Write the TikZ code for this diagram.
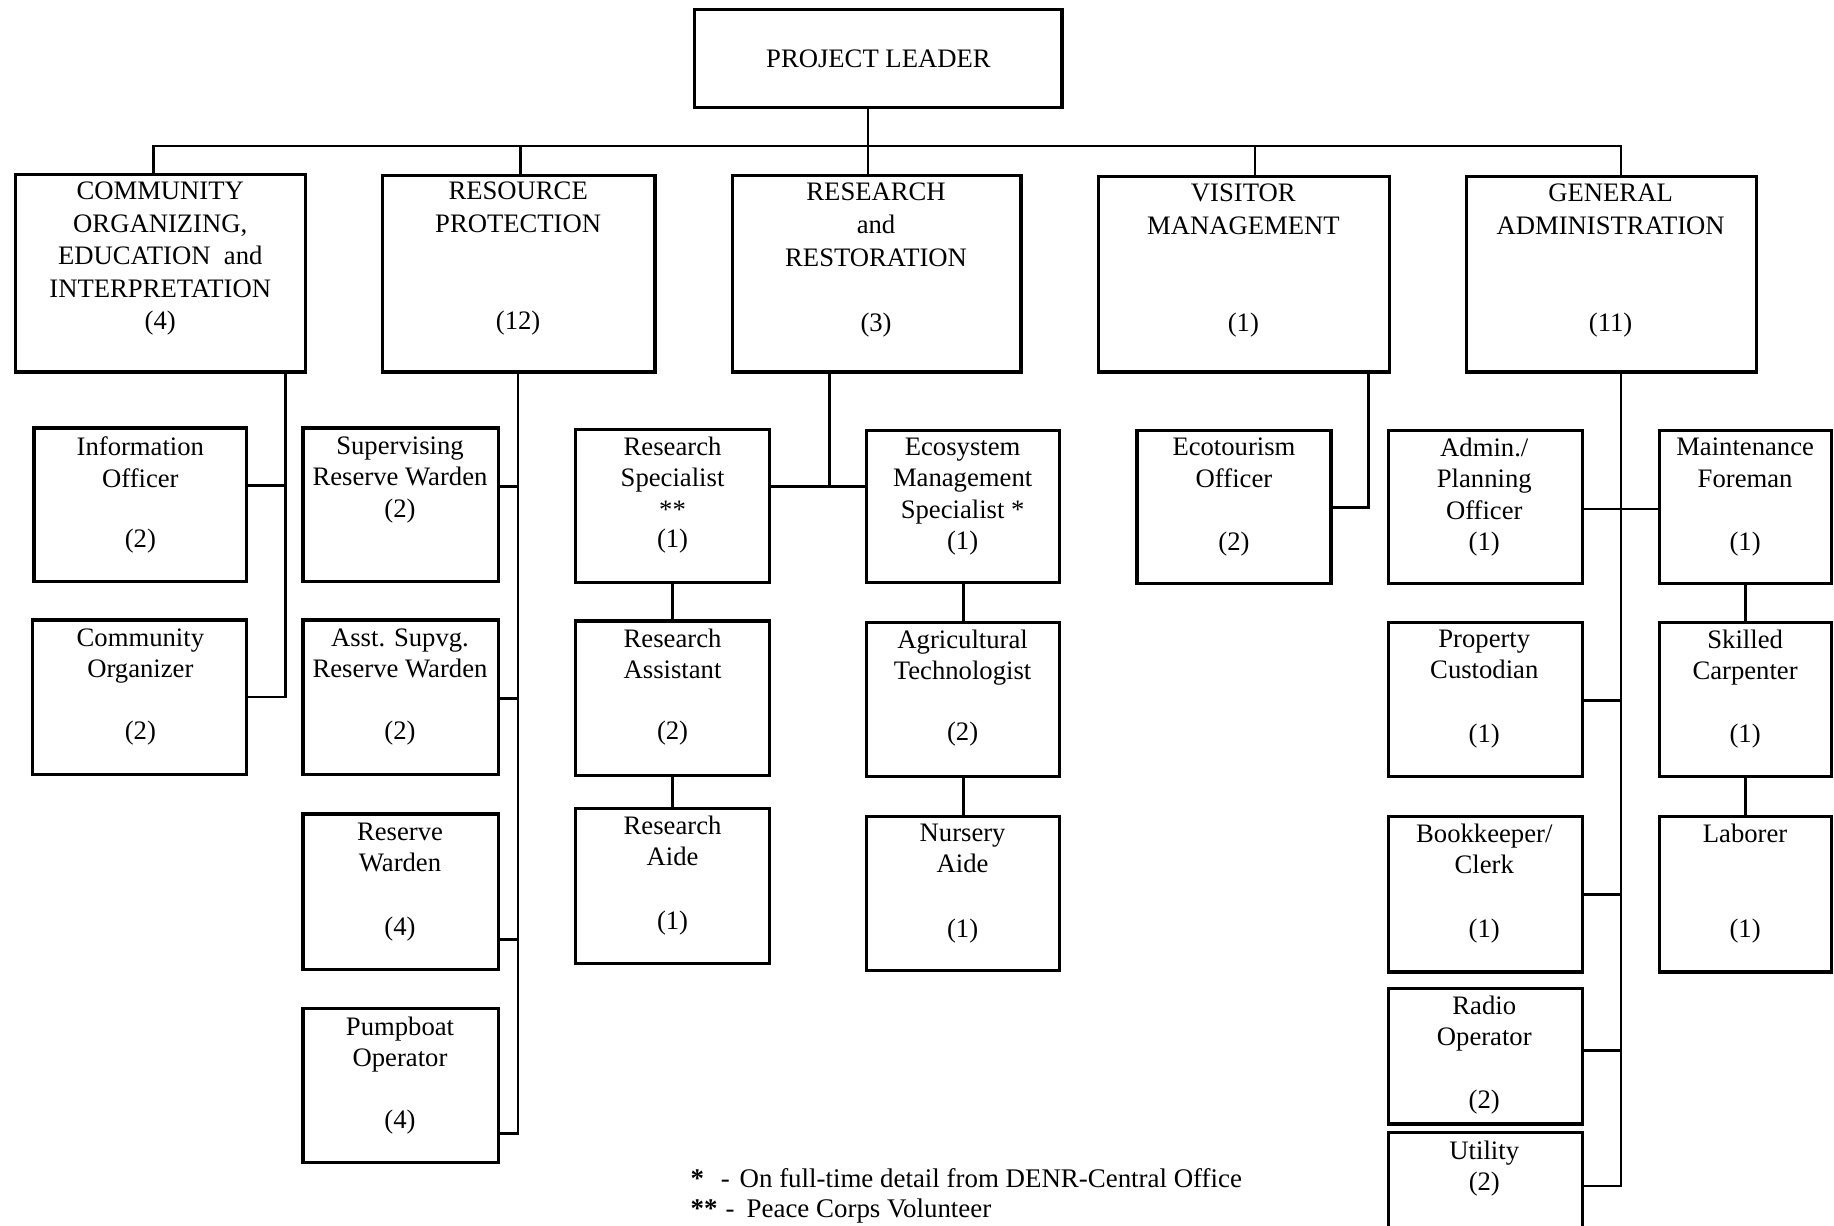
\documentclass[tikz,border=0pt]{standalone}
\usepackage{fontspec}
\setmainfont{Liberation Serif}
\usetikzlibrary{fit}

\begin{document}
\begin{tikzpicture}[x=0.5pt,y=-0.5pt,
  box/.style={draw, line width=1.4pt, inner sep=0pt},
  link/.style={line width=1.1pt},
  head/.style={font=\fontsize{11.4}{14}\selectfont, align=center, inner sep=0pt, anchor=north},
  ttl/.style={font=\fontsize{11.4}{13.5}\selectfont, align=center, inner sep=0pt, anchor=north},
  cnt/.style={font=\fontsize{11.4}{13.5}\selectfont, inner sep=0pt},
  note/.style={font=\fontsize{11.5}{13}\selectfont, inner sep=0pt, anchor=base west}]

\useasboundingbox (0,0) rectangle (1568,1048);
\clip (0,0) rectangle (1568,1048);

% ---- top level
\node[box, fit={(594,8) (908,92)}] (pl) {};
\node[cnt] (plt) at (751,50) {PROJECT LEADER};

% ---- divisions
\node[box, fit={(13,149) (261,318)}] (co) {};
\node[box, fit={(327,150) (560,318)}] (rp) {};
\node[box, fit={(626,150) (873,318)}] (rr) {};
\node[box, fit={(939,151) (1188,318)}] (vm) {};
\node[box, fit={(1254,151) (1502,318)}] (ga) {};

\node[head] (cot) at (137,155) {COMMUNITY\\ORGANIZING,\\EDUCATION~ and\\INTERPRETATION};
\node[cnt] (con) at (137,276) {(4)};
\node[head] (rpt) at (443,155) {RESOURCE\\PROTECTION};
\node[cnt] (rpn) at (443,276) {(12)};
\node[head] (rrt) at (749,156) {RESEARCH\\and\\RESTORATION};
\node[cnt] (rrn) at (749,278) {(3)};
\node[head] (vmt) at (1063,157) {VISITOR\\MANAGEMENT};
\node[cnt] (vmn) at (1063,278) {(1)};
\node[head] (gat) at (1377,157) {GENERAL\\ADMINISTRATION};
\node[cnt] (gan) at (1377,278) {(11)};

% ---- community organizing staff
\node[box, fit={(29,366) (211,497)}] (info) {};
\node[ttl] (infot) at (120,373) {Information\\Officer};
\node[cnt] (infon) at (120,463) {(2)};
\node[box, fit={(28,530) (211,662)}] (cor) {};
\node[ttl] (cort) at (120,537) {Community\\Organizer};
\node[cnt] (corn) at (120,627) {(2)};

% ---- resource protection staff
\node[box, fit={(259,366) (426,497)}] (srw) {};
\node[ttl] (srwt) at (342,373) {Supervising\\Reserve Warden\\(2)};
\node[box, fit={(259,530) (426,662)}] (asrw) {};
\node[ttl] (asrwt) at (342,537) {Asst. Supvg.\\Reserve Warden};
\node[cnt] (asrwn) at (342,627) {(2)};
\node[box, fit={(259,696) (426,829)}] (rw) {};
\node[ttl] (rwt) at (342,703) {Reserve\\Warden};
\node[cnt] (rwn) at (342,794) {(4)};
\node[box, fit={(259,862) (426,994)}] (pump) {};
\node[ttl] (pumpt) at (342,869) {Pumpboat\\Operator};
\node[cnt] (pumpn) at (342,959) {(4)};

% ---- research and restoration staff
\node[box, fit={(492,367) (658,498)}] (rs) {};
\node[ttl] (rst) at (575,373) {Research\\Specialist\\**};
\node[cnt] (rsn) at (575,463) {(1)};
\node[box, fit={(492,531) (658,663)}] (ra) {};
\node[ttl] (rat) at (575,537) {Research\\Assistant};
\node[cnt] (ran) at (575,627) {(2)};
\node[box, fit={(492,691) (658,824)}] (raide) {};
\node[ttl] (raidet) at (575,697) {Research\\Aide};
\node[cnt] (raiden) at (575,789) {(1)};
\node[box, fit={(741,368) (906,498)}] (ems) {};
\node[ttl] (emst) at (823,374) {Ecosystem\\Management\\Specialist *};
\node[cnt] (emsn) at (823,464) {(1)};
\node[box, fit={(741,532) (906,664)}] (agt) {};
\node[ttl] (agtt) at (823,538) {Agricultural\\Technologist};
\node[cnt] (agtn) at (823,628) {(2)};
\node[box, fit={(741,698) (906,830)}] (na) {};
\node[ttl] (nat) at (823,704) {Nursery\\Aide};
\node[cnt] (nan) at (823,796) {(1)};

% ---- visitor management staff
\node[box, fit={(972,368) (1138,499)}] (eco) {};
\node[ttl] (ecot) at (1055,374) {Ecotourism\\Officer};
\node[cnt] (econ) at (1055,465) {(2)};

% ---- general administration staff
\node[box, fit={(1187,368) (1353,499)}] (apo) {};
\node[ttl] (apot) at (1269,374) {Admin./\\Planning\\Officer};
\node[cnt] (apon) at (1269,465) {(1)};
\node[box, fit={(1187,532) (1353,664)}] (pc) {};
\node[ttl] (pct) at (1269,538) {Property\\Custodian};
\node[cnt] (pcn) at (1269,629) {(1)};
\node[box, fit={(1187,698) (1353,831)}] (bk) {};
\node[ttl] (bkt) at (1269,704) {Bookkeeper/\\Clerk};
\node[cnt] (bkn) at (1269,796) {(1)};
\node[box, fit={(1187,845) (1353,961)}] (radio) {};
\node[ttl] (radiot) at (1269,851) {Radio\\Operator};
\node[cnt] (radion) at (1269,942) {(2)};
\node[box, fit={(1187,968) (1353,1090)}] (util) {};
\node[ttl] (utilt) at (1269,975) {Utility\\(2)};
\node[box, fit={(1419,368) (1566,499)}] (mf) {};
\node[ttl] (mft) at (1492,374) {Maintenance\\Foreman};
\node[cnt] (mfn) at (1492,465) {(1)};
\node[box, fit={(1419,532) (1566,664)}] (sc) {};
\node[ttl] (sct) at (1492,538) {Skilled\\Carpenter};
\node[cnt] (scn) at (1492,629) {(1)};
\node[box, fit={(1419,698) (1566,831)}] (lab) {};
\node[ttl] (labt) at (1492,704) {Laborer};
\node[cnt] (labn) at (1492,796) {(1)};

% ---- top bus
\coordinate (trunk) at (742,125);
\coordinate (busL) at (131,125);
\coordinate (busR) at (1386,125);
\coordinate (rpdrop) at (445,125);
\coordinate (vmdrop) at (1073,125);
\draw[link] (trunk |- pl.south) -- (trunk |- rr.north);
\draw[link] (busL |- co.north) -- (busL) -- (busR) -- (busR |- ga.north);
\draw[link] (rpdrop) -- (rpdrop |- rp.north);
\draw[link] (vmdrop) -- (vmdrop |- vm.north);

% ---- community organizing links
\coordinate (coA) at (244,415);
\coordinate (coB) at (244,596);
\draw[link] (coA |- co.south) -- (coB) -- (cor.east |- coB);
\draw[link] (info.east |- coA) -- (coA);

% ---- resource protection links
\coordinate (rpA) at (443,416);
\coordinate (rpB) at (443,597);
\coordinate (rpC) at (443,803);
\coordinate (rpD) at (443,969);
\draw[link] (rpA |- rp.south) -- (rpD) -- (pump.east |- rpD);
\draw[link] (srw.east |- rpA) -- (rpA);
\draw[link] (asrw.east |- rpB) -- (rpB);
\draw[link] (rw.east |- rpC) -- (rpC);

% ---- research and restoration links
\coordinate (rrA) at (709,416);
\draw[link] (rrA |- rr.south) -- (rrA);
\draw[link] (rs.east |- rrA) -- (ems.west |- rrA);
\draw[link] (rs.south) -- (ra.north);
\draw[link] (ra.south) -- (raide.north);
\draw[link] (ems.south) -- (agt.north);
\draw[link] (agt.south) -- (na.north);

% ---- visitor management link
\coordinate (vmA) at (1170,434);
\draw[link] (vmA |- vm.south) -- (vmA) -- (eco.east |- vmA);

% ---- general administration links
\coordinate (gaA) at (1386,435);
\coordinate (gaB) at (1386,599);
\coordinate (gaC) at (1386,765);
\coordinate (gaD) at (1386,898);
\coordinate (gaE) at (1386,1014);
\draw[link] (gaA |- ga.south) -- (gaE) -- (util.east |- gaE);
\draw[link] (apo.east |- gaA) -- (mf.west |- gaA);
\draw[link] (pc.east |- gaB) -- (gaB);
\draw[link] (bk.east |- gaC) -- (gaC);
\draw[link] (radio.east |- gaD) -- (gaD);
\draw[link] (mf.south) -- (sc.north);
\draw[link] (sc.south) -- (lab.north);

% ---- footnotes
\node[note] (fn1) at (590,1015) {\makebox[13pt][l]{\textbf{*}}\makebox[8pt][l]{-}On full-time detail from DENR-Central Office};
\node[note] (fn2) at (590,1041) {\makebox[15pt][l]{\textbf{**}}\makebox[9pt][l]{-}Peace Corps Volunteer};
\end{tikzpicture}
\end{document}
